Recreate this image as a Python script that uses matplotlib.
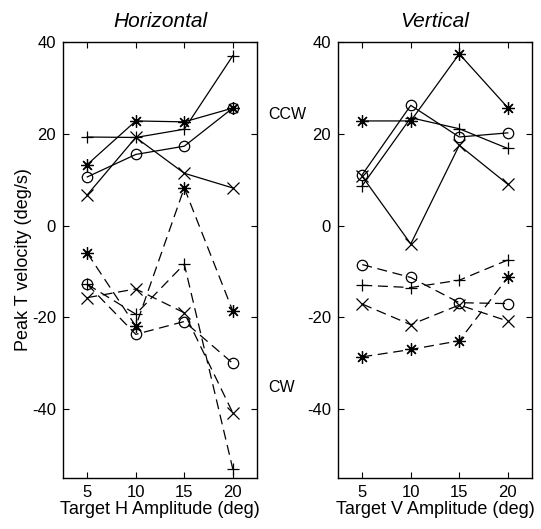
import numpy as np
import matplotlib
matplotlib.use('Agg')
import matplotlib.pyplot as plt

plt.rcParams['font.family'] = ['Liberation Sans', 'DejaVu Sans']
plt.rcParams['axes.unicode_minus'] = False

amp = [5, 10, 15, 20]

# Horizontal targets, CCW (solid) and CW (dashed)
h_ccw_plus = [19.3, 19.2, 21.0, 37.0]
h_ccw_star = [13.3, 22.8, 22.6, 25.6]
h_ccw_circ = [10.6, 15.5, 17.3, 25.6]
h_ccw_x = [6.7, 19.2, 11.4, 8.2]
h_cw_plus = [-12.8, -19.3, -8.4, -53.0]
h_cw_star = [-6.0, -21.9, 8.2, -18.6]
h_cw_circ = [-12.8, -23.7, -20.9, -30.0]
h_cw_x = [-15.7, -13.8, -19.0, -40.8]

# Vertical targets
v_ccw_plus = [8.7, 23.5, 21.1, 16.8]
v_ccw_star = [22.8, 22.8, 37.4, 25.7]
v_ccw_circ = [11.1, 26.2, 19.3, 20.2]
v_ccw_x = [10.7, -4.0, 17.5, 9.0]
v_cw_plus = [-13.0, -13.5, -11.9, -7.5]
v_cw_star = [-28.6, -27.0, -25.1, -11.3]
v_cw_circ = [-8.5, -11.3, -16.8, -17.0]
v_cw_x = [-17.1, -21.6, -17.3, -20.8]

yticks = [-40, -20, 0, 20, 40]

asterisk = (8, 2, 0)
markers = {'plus': ('+', 9), 'star': (asterisk, 9), 'circ': ('o', 7.5), 'x': ('x', 8.5)}

fig = plt.figure(figsize=(5.41, 5.29), dpi=100)
ax1 = fig.add_axes([0.1165, 0.0964, 0.3586, 0.8242])
ax2 = fig.add_axes([0.6248, 0.0964, 0.3586, 0.8242])


def draw(ax, ccw, cw):
    for key, ys in ccw.items():
        m, ms = markers[key]
        ax.plot(amp, ys, color='black', lw=0.9, marker=m, ms=ms,
                mfc='none', mec='black', mew=0.9)
    for key, ys in cw.items():
        m, ms = markers[key]
        ax.plot(amp, ys, color='black', lw=0.9, ls=(0, (8, 4.5)), marker=m, ms=ms,
                mfc='none', mec='black', mew=0.9)
    ax.set_xlim(2.5, 22.5)
    ax.set_ylim(-55, 40)
    ax.set_xticks(amp)
    ax.set_yticks(yticks)
    ax.tick_params(direction='in', top=True, right=True, length=4, labelsize=12, width=0.8, pad=5)
    for s in ax.spines.values():
        s.set_linewidth(1.0)


draw(ax1,
     {'plus': h_ccw_plus, 'star': h_ccw_star, 'circ': h_ccw_circ, 'x': h_ccw_x},
     {'plus': h_cw_plus, 'star': h_cw_star, 'circ': h_cw_circ, 'x': h_cw_x})
draw(ax2,
     {'plus': v_ccw_plus, 'star': v_ccw_star, 'circ': v_ccw_circ, 'x': v_ccw_x},
     {'plus': v_cw_plus, 'star': v_cw_star, 'circ': v_cw_circ, 'x': v_cw_x})

ax1.set_title('Horizontal', fontsize=15, style='italic', pad=11)
ax2.set_title('Vertical', fontsize=15, style='italic', pad=11)
ax1.set_xlabel('Target H Amplitude (deg)', fontsize=13, labelpad=1)
ax2.set_xlabel('Target V Amplitude (deg)', fontsize=13, labelpad=1)
ax1.set_ylabel('Peak T velocity (deg/s)', fontsize=13, labelpad=0)

fig.text(0.495, 0.783, 'CCW', fontsize=11.5, ha='left', va='center')
fig.text(0.495, 0.267, 'CW', fontsize=11.5, ha='left', va='center')

fig.savefig('out.png', dpi=100)
